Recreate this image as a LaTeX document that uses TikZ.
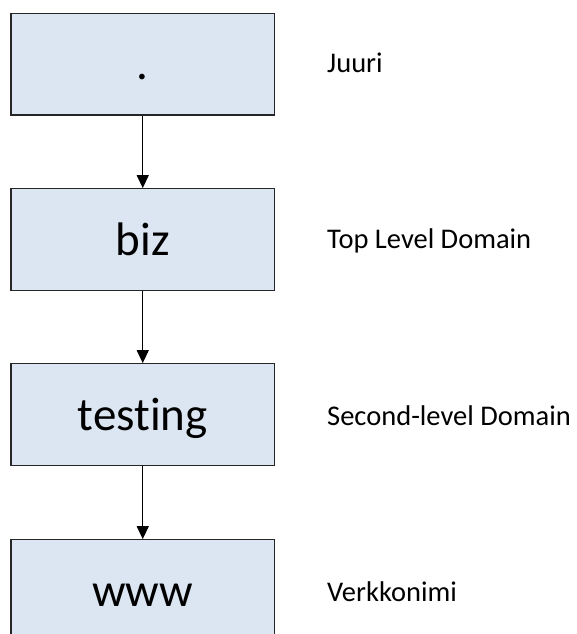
\documentclass[tikz,border=0pt]{standalone}
\usepackage{fontspec}
\setmainfont{Carlito}[Ligatures={NoCommon,NoContextual}]
\usetikzlibrary{arrows.meta}
\definecolor{boxfill}{HTML}{DCE6F2}
\definecolor{boxline}{HTML}{262626}
\begin{document}
\begin{tikzpicture}[x=1pt,y=1pt,
  box/.style={draw=boxline, fill=boxfill, line width=1.3pt, minimum width=263.5pt, minimum height=101.5pt, inner sep=0pt, font=\fontsize{47}{47}\selectfont, text height=34pt, text depth=3pt},
  lbl/.style={anchor=base west, inner sep=0pt, font=\fontsize{28.5}{30}\selectfont},
  link/.style={line width=1.3pt, -{Triangle[length=13pt,width=12pt]}}]
\useasboundingbox (0,0) rectangle (576,-634);
\clip (0,0) rectangle (576,-634);
\node[box] (root) at (142.75,-64.25) {.};
\node[box] (tld) at (142.75,-239.5) {biz};
\node[box] (sld) at (142.75,-414.5) {testing};
\node[box] (host) at (142.75,-590.5) {www};
\node[lbl] (lroot) at (327,-73) {Juuri};
\node[lbl] (ltld) at (327,-248.5) {Top Level Domain};
\node[lbl] (lsld) at (327,-425) {Second-level Domain};
\node[lbl] (lhost) at (327,-601.5) {Verkkonimi};
\draw[link] (root) -- (tld);
\draw[link] (tld) -- (sld);
\draw[link] (sld) -- (host);
\end{tikzpicture}
\end{document}
